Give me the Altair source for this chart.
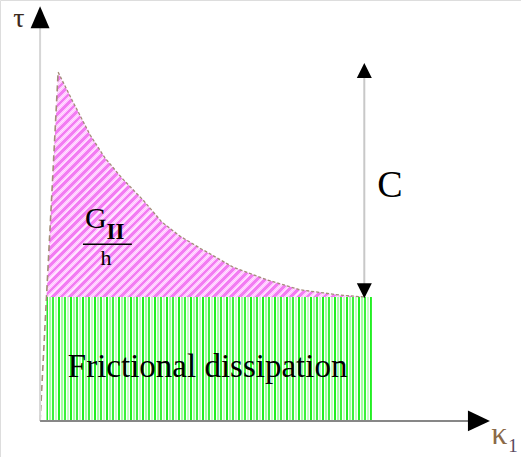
import altair as alt
import pandas as pd

# Softening branch: shear stress tau against slip kappa_1, from the peak down to
# the residual (frictional) level
kappa = [0.45, 0.80, 1.25, 1.62, 2.04, 2.57, 3.04, 3.49, 3.99, 4.81, 5.66, 6.49, 7.48, 8.11]
tau = [8.70, 8.00, 7.13, 6.56, 6.06, 5.51, 4.96, 4.61, 4.31, 3.84, 3.52, 3.27, 3.14, 3.09]

tau_friction = 3.09      # residual frictional stress level
kappa_start = 0.16       # where the elastic branch crosses the friction level
kappa_end = 8.28         # end of the frictional dissipation block
kappa_c = 8.09           # position of the "C" dimension arrow
tau_c_top = 8.85

X_DOMAIN = [-1, 12]
Y_DOMAIN = [-0.9, 10.5]
SERIF = "Liberation Serif"


def xs(field="k", **kw):
    return alt.X(field, type="quantitative", scale=alt.Scale(domain=X_DOMAIN, nice=False, zero=False), axis=None, **kw)


def ys(field="t", **kw):
    return alt.Y(field, type="quantitative", scale=alt.Scale(domain=Y_DOMAIN, nice=False, zero=False), axis=None, **kw)


def stripe_stops(cycle, length):
    """Hard-edged gradient stops repeating a (colour, width-in-px) cycle."""
    stops, pos, i = [], 0.0, 0
    while pos < length - 1e-9:
        color, w = cycle[i % len(cycle)]
        end = min(pos + w, length)
        stops.append(alt.GradientStop(color=color, offset=pos / length))
        stops.append(alt.GradientStop(color=color, offset=end / length))
        pos, i = end, i + 1
    return stops


# hatching styles
green_cycle = [("#22ee22", 2.0), ("#ffffff", 1.0), ("#a4ffa4", 1.5), ("#f0fff0", 1.5),
               ("#3cf03c", 1.5), ("#ffffff", 1.2), ("#c4ffc4", 2.0), ("#ffffff", 1.3)]
pink_cycle = [("#f27cf2", 2.6), ("#ffc4ff", 1.4), ("#ffeaff", 0.8), ("#ffc4ff", 1.2)]

px_per_x = 521 / (X_DOMAIN[1] - X_DOMAIN[0])
px_per_y = 457 / (Y_DOMAIN[1] - Y_DOMAIN[0])

# vertical stripes across the friction block
green_w = (kappa_end - kappa_start) * px_per_x
green_fill = alt.Gradient(gradient="linear", x1=0, y1=0, x2=1, y2=0,
                          stops=stripe_stops(green_cycle, green_w))

# 45-degree stripes across the softening region
pw = (max(kappa) - kappa_start) * px_per_x
ph = (max(tau) - tau_friction) * px_per_y
r = ph / pw
k = (1 + r) / (1 + r * r)
pink_len = (pw + ph) / 2 ** 0.5
pink_fill = alt.Gradient(gradient="linear", x1=0, y1=0, x2=k, y2=k * r,
                         stops=stripe_stops(pink_cycle, pink_len))

area_df = pd.DataFrame({"k": [kappa_start] + kappa,
                        "t": [tau_friction] + tau,
                        "t2": tau_friction})
curve_df = pd.DataFrame({"k": kappa, "t": tau})
elastic_df = pd.DataFrame({"k": [0, kappa[0]], "t": [0, tau[0]]})
block_df = pd.DataFrame({"k": [kappa_start], "k2": [kappa_end], "t": [0], "t2": [tau_friction]})

pink = alt.Chart(area_df).mark_area(color=pink_fill, interpolate="linear").encode(
    x=xs(), y=ys(), y2="t2")
green = alt.Chart(block_df).mark_rect(color=green_fill).encode(
    x=xs(), x2="k2", y=ys(), y2="t2")
curve = alt.Chart(curve_df).mark_line(color="#a48e78", strokeWidth=1.3, strokeDash=[3, 2]).encode(
    x=xs(), y=ys())
elastic = alt.Chart(elastic_df).mark_line(color="#a48e78", strokeWidth=1.6, strokeDash=[6, 4]).encode(
    x=xs(), y=ys())

# axes drawn as arrows
yaxis = alt.Chart(pd.DataFrame({"k": [0], "t": [0], "t2": [9.8]})).mark_rule(
    color="#d6d6d6", strokeWidth=2).encode(x=xs(), y=ys(), y2="t2")
xaxis = alt.Chart(pd.DataFrame({"k": [0], "k2": [10.75], "t": [0]})).mark_rule(
    color="#878787", strokeWidth=2).encode(x=xs(), x2="k2", y=ys())
up_head = alt.Chart(pd.DataFrame({"k": [0], "t": [10.07]})).mark_point(
    shape="M0,-1L0.86,1L-0.86,1Z", size=484, filled=True, color="black", opacity=1).encode(x=xs(), y=ys())
right_head = alt.Chart(pd.DataFrame({"k": [10.95], "t": [0]})).mark_point(
    shape="M1,0L-1,-0.95L-1,0.95Z", size=484, filled=True, color="black", opacity=1).encode(x=xs(), y=ys())

# "C" dimension arrow
c_line = alt.Chart(pd.DataFrame({"k": [kappa_c], "t": [tau_friction], "t2": [tau_c_top]})).mark_rule(
    color="#c8c8c8", strokeWidth=2).encode(x=xs(), y=ys(), y2="t2")
c_top = alt.Chart(pd.DataFrame({"k": [kappa_c], "t": [8.74]})).mark_point(
    shape="M0,-1L1,1L-1,1Z", size=225, filled=True, color="black", opacity=1).encode(x=xs(), y=ys())
c_bot = alt.Chart(pd.DataFrame({"k": [kappa_c], "t": [3.25]})).mark_point(
    shape="M0,1L1,-1L-1,-1Z", size=225, filled=True, color="black", opacity=1).encode(x=xs(), y=ys())


def label(text, k_, t_, size, color="black", align="center", weight="normal", baseline="alphabetic"):
    return alt.Chart(pd.DataFrame({"k": [k_], "t": [t_], "s": [text]})).mark_text(
        font=SERIF, fontSize=size, color=color, align=align, baseline=baseline,
        fontWeight=weight).encode(x=xs(), y=ys(), text="s:N")


tau_lbl = label("τ", -0.53, 10.02, 28, color="#3b2a20", baseline="middle")
kappa_lbl = label("κ", 11.46, -0.58, 32, color="#8b6a48")
kappa_sub = label("1", 11.8, -0.78, 19, color="#5a4a60")
c_lbl = label("C", 8.73, 5.59, 38)
g_lbl = label("G", 1.12, 4.81, 30, align="left")
ii_lbl = label("II", 1.66, 4.54, 23, align="left", weight="bold")
h_lbl = label("h", 1.645, 3.89, 22)
fric_lbl = label("Frictional dissipation", 4.18, 1.10, 33)
frac_bar = alt.Chart(pd.DataFrame({"k": [1.07], "k2": [2.29], "t": [4.41]})).mark_rule(
    color="black", strokeWidth=1.5).encode(x=xs(), x2="k2", y=ys())

chart = alt.layer(
    green, pink, curve, elastic, yaxis, xaxis, up_head, right_head,
    c_line, c_top, c_bot, tau_lbl, kappa_lbl, kappa_sub, c_lbl,
    g_lbl, ii_lbl, h_lbl, frac_bar, fric_lbl,
).properties(
    width=521, height=457, autosize=alt.AutoSizeParams(type="none"), padding=0,
).configure_view(stroke=None).configure(background="white")

chart.save("out.html", embed_options={"renderer": "svg", "actions": False})
